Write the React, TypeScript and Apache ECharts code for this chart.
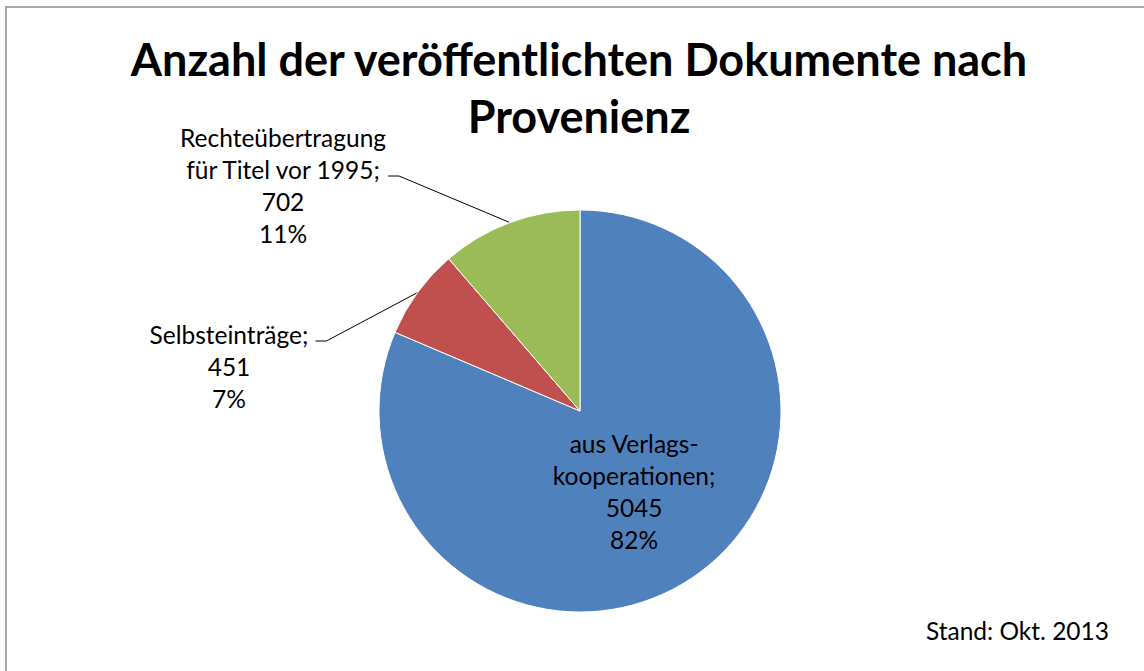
import React, { useEffect, useRef } from "react";
import * as echarts from "echarts";

const categories = ["aus Verlags-\nkooperationen", "Selbsteinträge", "Rechteübertragung\nfür Titel vor 1995"];
const values = [5045, 451, 702];
const percentLabels = ["82%", "7%", "11%"];
const colors = ["#4F81BD", "#C0504D", "#9BBB59"];
const titleText = "Anzahl der veröffentlichten Dokumente nach\nProvenienz";
const footnote = "Stand: Okt. 2013";

const FONT = "Lato, 'Noto Sans', sans-serif";
const LABEL_SIZE = 24.5;
const LINE_H = 32;

// outside label placement (layout only): block centre x, block top y, line index the leader attaches to
const outsideLabelPos: Record<number, { cx: number; top: number; line: number }> = {
  1: { cx: 229, top: 318, line: 0 },
  2: { cx: 283, top: 121, line: 1 },
};

function labelText(i: number) {
  return `${categories[i]};\n${values[i]}\n${percentLabels[i]}`;
}

let measureCtx: CanvasRenderingContext2D | null = null;
function measure(text: string) {
  if (!measureCtx) measureCtx = document.createElement("canvas").getContext("2d");
  measureCtx!.font = `${LABEL_SIZE}px ${FONT}`;
  return measureCtx!.measureText(text).width;
}

export default function App() {
  const ref = useRef<HTMLDivElement>(null);
  useEffect(() => {
    document.body.style.margin = "0";
    const chart = echarts.init(ref.current!, null, { renderer: "svg" });
    chart.setOption({
      animation: false,
      backgroundColor: "#fff",
      title: {
        text: titleText,
        left: 579,
        top: 30,
        padding: 0,
        textAlign: "center",
        textStyle: {
          fontFamily: FONT,
          fontWeight: "bold",
          fontSize: 45,
          lineHeight: 57,
          color: "#000",
        },
      },
      graphic: [
        {
          type: "rect",
          shape: { x: 6, y: 7, width: 1300, height: 800 },
          style: { fill: "none", stroke: "#A9A9A9", lineWidth: 2 },
          silent: true,
        },
        {
          type: "text",
          left: 926,
          top: 618,
          style: { text: footnote, font: `${LABEL_SIZE}px ${FONT}`, fill: "#000" },
        },
      ],
      series: [
        {
          type: "pie",
          center: [580, 411],
          radius: 201,
          startAngle: 90,
          clockwise: true,
          itemStyle: { borderColor: "#fff", borderWidth: 1 },
          label: {
            show: true,
            position: "outside",
            formatter: (p: any) => labelText(p.dataIndex),
            fontFamily: FONT,
            fontSize: LABEL_SIZE,
            lineHeight: LINE_H,
            color: "#000",
            align: "center",
          },
          labelLine: { show: true, lineStyle: { color: "#000", width: 1 } },
          labelLayout: (params: any) => {
            const pos = outsideLabelPos[params.dataIndex];
            if (!pos) return {};
            const lines = labelText(params.dataIndex).split("\n");
            const w = measure(lines[pos.line]);
            const end = pos.cx + w / 2 + 7;
            const ly = pos.top + pos.line * LINE_H + 23;
            const pts = params.labelLinePoints;
            const p0 = pts ? pts[0] : [end + 20, ly];
            return {
              x: pos.cx,
              y: pos.top,
              align: "center",
              verticalAlign: "top",
              labelLinePoints: [p0, [end + 11, ly], [end, ly]],
            };
          },
          data: categories.map((name, i) => ({
            name,
            value: values[i],
            itemStyle: { color: colors[i] },
            ...(i === 0
              ? { label: { position: "inside", offset: [-3, -6] }, labelLine: { show: false } }
              : {}),
          })),
        },
      ],
    });
    return () => chart.dispose();
  }, []);
  return <div ref={ref} style={{ width: 1144, height: 671 }} />;
}
